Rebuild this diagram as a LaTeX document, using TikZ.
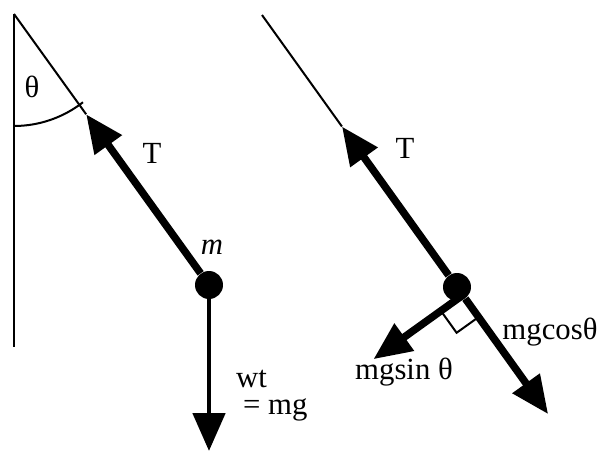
\documentclass[tikz,border=0pt]{standalone}
\usepackage{fontspec}
\setmainfont{Liberation Serif}
\usetikzlibrary{arrows.meta, positioning, calc}

\begin{document}
\begin{tikzpicture}[
    x=0.02cm, y=-0.02cm,
    thin line/.style={line width=0.04cm},
    force/.style={-{Triangle[length=0.76cm, width=0.64cm]}, line width=0.15cm},
    mass/.style={circle, fill=black, inner sep=0pt, minimum size=0.56cm},
    lbl/.style={font=\fontsize{17.5}{20}\selectfont, inner sep=1pt}
]
    \useasboundingbox (0,0) rectangle (603,453);

    % Left pendulum
    \coordinate (pivot_l) at (14,14);
    \coordinate (wall_l) at (14,347);
    \node[mass] (mass_l) at (209,285) {};
    \coordinate (tip_l) at ($(pivot_l)!0.37!(mass_l)$);
    \coordinate (wt_tip) at (209,451);

    \draw[thin line] (pivot_l) -- (wall_l);
    \draw[thin line] (pivot_l) -- (tip_l);
    \draw[thin line] (pivot_l) ++(90:112) arc[start angle=90, end angle=52, radius=112];
    \draw[force] (mass_l) -- (tip_l);
    \draw[force, line width=0.1cm] (mass_l) -- (wt_tip);

    \node[lbl] (theta_l) at (32,87) {θ};
    \node[lbl] (t_l) at (152,153) {T};
    \node[lbl, font=\fontsize{17.5}{20}\selectfont\itshape] (m_l) at (212,247) {m};
    \node[lbl, anchor=base west] (wt_l) at (234,387) {wt};
    \node[lbl, anchor=base west] (mg_l) at (241,414) {= mg};

    % Right pendulum, weight resolved
    \coordinate (pivot_r) at (262,15);
    \node[mass] (mass_r) at (457,287) {};
    \coordinate (tip_r) at ($(pivot_r)!0.41!(mass_r)$);
    \coordinate (foot_r) at ($(mass_r)!-0.2cm!(pivot_r)$);
    \coordinate (cos_tip) at ($(mass_r)!-3.13cm!(pivot_r)$);
    \coordinate (sin_tip) at ($(foot_r)!2.2cm!90:(pivot_r)$);
    \coordinate (sq_a) at ($(foot_r)!-0.54cm!(pivot_r)$);
    \coordinate (sq_b) at ($(foot_r)!0.54cm!90:(pivot_r)$);

    \draw[thin line] (pivot_r) -- (tip_r);
    \draw[force] (mass_r) -- (tip_r);
    \draw[force] (mass_r) -- (cos_tip);
    \draw[force] (foot_r) -- (sin_tip);
    \draw[thin line] (sq_a) -- ($(sq_a)+(sq_b)-(foot_r)$) -- (sq_b);

    \node[lbl] (t_r) at (405,148) {T};
    \node[lbl] (cos_l) at (550,332) {mgcosθ};
    \node[lbl] (sin_l) at (404,372) {mgsin θ};

\end{tikzpicture}
\end{document}
